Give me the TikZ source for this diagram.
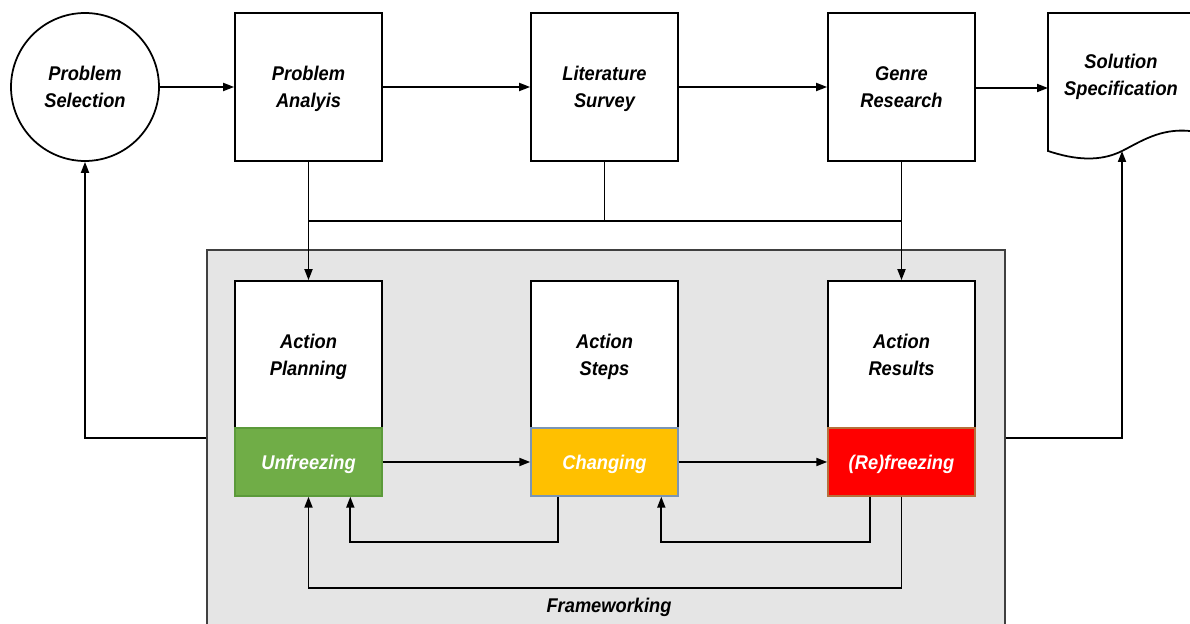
\documentclass[tikz,border=0pt]{standalone}
\usepackage{fontspec}
\setmainfont[FakeStretch=0.92]{Liberation Sans}
\usetikzlibrary{arrows.meta,calc}
\definecolor{fwfill}{HTML}{E5E5E5}
\definecolor{fwline}{HTML}{404040}
\definecolor{ufgreen}{HTML}{70AD47}
\definecolor{ufedge}{HTML}{5B9A3A}
\definecolor{cgyellow}{HTML}{FFC000}
\definecolor{cgedge}{HTML}{7A95B5}
\definecolor{rfred}{HTML}{FF0000}
\definecolor{rfedge}{HTML}{B5703C}
\tikzset{
  lbl/.style={font=\fontsize{11.3}{15.3}\selectfont\bfseries\itshape, align=center,
    text depth=0pt},
  procbox/.style={lbl, draw=black, line width=1pt, fill=white,
    minimum width=2.94cm, minimum height=2.96cm, inner sep=0pt},
  topbox/.style={lbl, draw=black, line width=1pt, fill=white,
    minimum width=2.94cm, minimum height=2.94cm, inner sep=0pt},
  phase/.style={lbl, text=white, line width=0.8pt,
    minimum width=2.94cm, minimum height=1.36cm, inner sep=0pt},
  conn/.style={line width=1.05pt, draw=black},
  arr/.style={conn, -{Triangle[length=2.2mm,width=1.6mm]}},
}
\begin{document}
\begin{tikzpicture}[x=0.02cm, y=-0.02cm]
\useasboundingbox (0,0) rectangle (1190,624);
\begin{scope}
\clip (0,0) rectangle (1190,624);

% framework container
\node[draw=fwline, fill=fwfill, line width=0.8pt, minimum width=15.96cm,
  minimum height=7.8cm, inner sep=0pt] (fw) at (606,445) {};
\node[lbl] (fwlabel) at (609,605) {Frameworking};

% top row
\node[lbl, draw=black, line width=1pt, circle, minimum size=2.96cm, inner sep=0pt]
  (ps) at (85,87) {Problem\\Selection};
\node[procbox] (pa) at (308.5,87) {Problem\\Analyis};
\node[procbox] (ls) at (604.5,87) {Literature\\Survey};
\node[procbox] (gr) at (901.5,87) {Genre\\Research};

% document shape for the solution specification
\draw[line width=1pt, fill=white] (1048,151) -- (1048,13) -- (1200,13) -- (1200,131)
  -- (1190,131) .. controls (1160,128) and (1140,142) .. (1122,151)
  .. controls (1100,162) and (1075,160) .. cycle;
\node[lbl] (ss) at (1121,75) {Solution\\Specification};
\coordinate (ssW) at (1048,88);
\coordinate (ssB) at (1122,151);

% action boxes and their phases
\node[topbox] (ap) at (308.5,354.5) {Action\\Planning};
\node[topbox] (as) at (604.5,354.5) {Action\\Steps};
\node[topbox] (ar) at (901.5,354.5) {Action\\Results};
\node[phase, fill=ufgreen, draw=ufedge] (uf) at (308.5,462) {Unfreezing};
\node[phase, fill=cgyellow, draw=cgedge] (cg) at (604.5,462) {Changing};
\node[phase, fill=rfred, draw=rfedge] (rf) at (901.5,462) {(Re)freezing};

% top row flow
\draw[arr] (ps.east) -- (pa.west);
\draw[arr] (pa.east) -- (ls.west);
\draw[arr] (ls.east) -- (gr.west);
\draw[arr] (gr.east |- ssW) -- (ssW);

% shared bus into the framework
\coordinate (busy) at (0,221);
\draw[conn] (ls.south) -- (ls.south |- busy);
\draw[conn] (pa.south |- busy) -- (gr.south |- busy);
\draw[arr] (pa.south) -- (ap.north);
\draw[arr] (gr.south) -- (ar.north);

% phase sequence
\draw[arr] (uf.east) -- (cg.west);
\draw[arr] (cg.east) -- (rf.west);

% feedback loops
\draw[arr] ($(cg.south west)+(28,0)$) -- ++(0,45) -| ($(uf.south west)+(116,0)$);
\draw[arr] ($(rf.south west)+(43,0)$) -- ++(0,45) -| ($(cg.south west)+(131,0)$);
\draw[arr] (rf.south) -- ++(0,91) -| (uf.south);

% framework outputs
\coordinate (fwL) at ($(fw.north west)+(0,189)$);
\coordinate (fwR) at ($(fw.north east)+(0,189)$);
\draw[arr] (fwL) -| (ps.south);
\draw[arr] (fwR) -| (ssB);
\end{scope}
\end{tikzpicture}
\end{document}
